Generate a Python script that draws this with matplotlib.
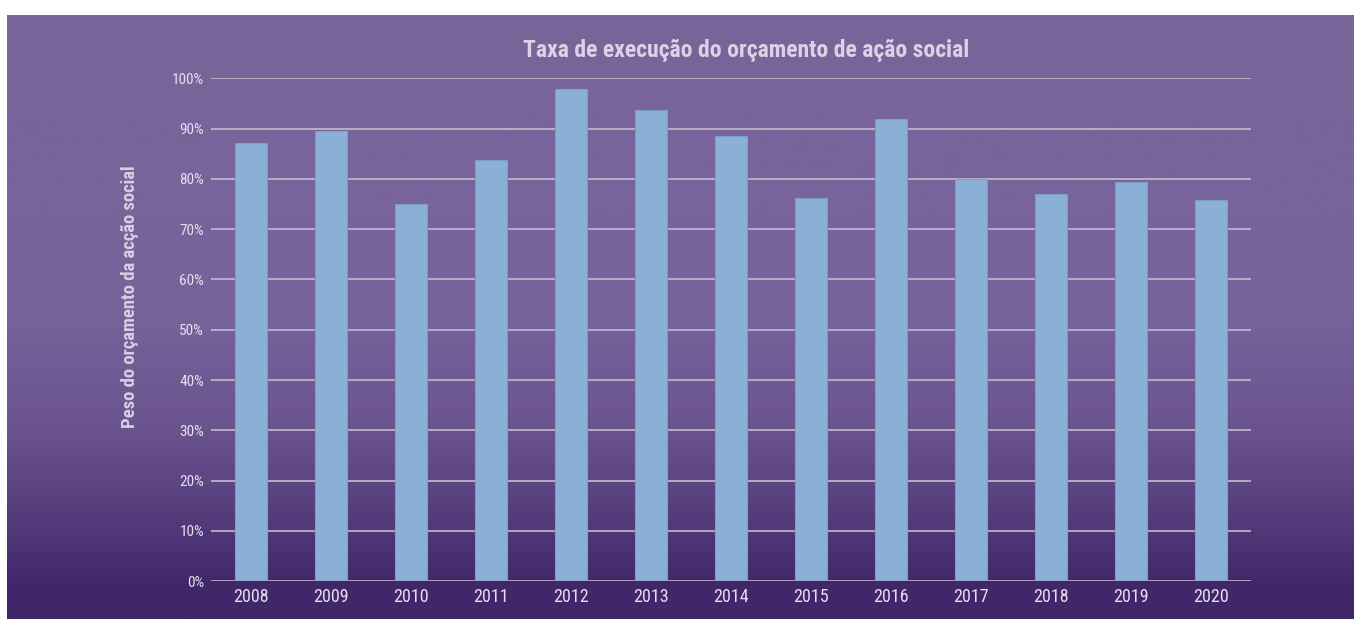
import numpy as np
import matplotlib
matplotlib.use("Agg")
import matplotlib.pyplot as plt
from matplotlib import font_manager
from matplotlib.colors import LinearSegmentedColormap
from matplotlib.ticker import FuncFormatter

# data
anos = ["2008", "2009", "2010", "2011", "2012", "2013", "2014",
        "2015", "2016", "2017", "2018", "2019", "2020"]
taxa = [87.1, 89.5, 75.0, 83.7, 97.9, 93.6, 88.6,
        76.3, 92.0, 80.0, 76.9, 79.3, 75.9]
yticks = list(range(0, 101, 10))

titulo = "Taxa de execução do orçamento de ação social"
ylabel = "Peso do orçamento da acção social"

# condensed font if one is installed, else Roboto
nomes = {f.name for f in font_manager.fontManager.ttflist}
fam = [n for n in ["Liberation Sans Narrow", "Roboto Condensed", "Roboto"] if n in nomes]
plt.rcParams['font.family'] = fam + ['DejaVu Sans']
narrow = bool(fam) and fam[0] != "Roboto"

W, H = 1354, 619
fig = plt.figure(figsize=(W / 100, H / 100), dpi=100)
fig.patch.set_facecolor("white")

# purple panel with vertical gradient
bg = fig.add_axes([7 / W, 0, 1 - 7 / W, (H - 15) / H], zorder=-10)
grad = LinearSegmentedColormap.from_list(
    "roxo", [(0.0, "#41266a"), (0.06, "#42276b"), (0.2, "#5a4280"),
             (0.33, "#6c5590"), (0.5, "#77629a"), (1.0, "#7a659a")])
bg.imshow(np.linspace(0, 1, 256).reshape(-1, 1), aspect="auto", cmap=grad,
          origin="lower", extent=[0, 1, 0, 1])
bg.set_axis_off()

ax = fig.add_axes([211 / W, (H - 581.3) / H, 1040 / W, 503 / H])
ax.set_facecolor("none")
x = np.arange(len(anos))
ax.bar(x, taxa, width=0.4, color="#8bb0d6", edgecolor="#7d9dc9",
       linewidth=0.8, zorder=3)

fs_tick = 12 if narrow else 10.5
fs_title = 17 if narrow else 15

ax.set_xlim(-0.5, len(anos) - 0.5)
ax.set_ylim(0, 100)
ax.set_yticks(yticks)
ax.yaxis.set_major_formatter(FuncFormatter(lambda v, p: f"{v:.0f}%"))
ax.set_xticks(x)
ax.set_xticklabels(anos)
ax.grid(axis="y", color="#c3bccf", linewidth=1.2, zorder=0)
ax.set_axisbelow(True)
for s in ax.spines.values():
    s.set_visible(False)
ax.tick_params(axis="both", length=0, colors="#e4e0ee")
ax.tick_params(axis="y", pad=5, labelsize=fs_tick - 1)
ax.tick_params(axis="x", pad=5, labelsize=fs_tick + 1)

# y label sits a bit above the axis centre in the reference
fig.text(130 / W, 1 - 297 / H, ylabel, rotation=90, ha="center", va="center",
         color="#d6d0e3", fontsize=fs_tick * 1.12, fontweight="bold")

fig.text(746 / W, 1 - 51 / H, titulo, ha="center", va="center",
         color="#d9d3e6", fontsize=fs_title, fontweight="bold")

fig.savefig("out.png", dpi=100, facecolor=fig.get_facecolor())
